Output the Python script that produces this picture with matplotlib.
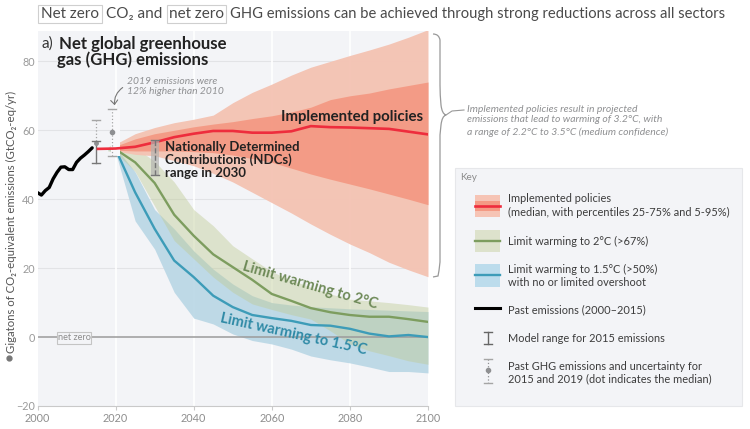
import numpy as np
import matplotlib
matplotlib.use("Agg")
import matplotlib.pyplot as plt
from matplotlib.patches import Rectangle, FancyArrowPatch, PathPatch
from matplotlib.path import Path

plt.rcParams['font.family'] = ['Lato', 'Noto Sans', 'DejaVu Sans']

# data
past_years = [2000, 2001, 2002, 2003, 2004, 2005, 2006, 2007, 2008, 2009, 2010, 2011, 2012, 2013, 2014]
past = [41.9, 41.2, 42.5, 43.4, 45.9, 47.8, 49.3, 49.4, 48.6, 48.6, 50.7, 51.9, 52.8, 53.8, 54.9]

years = [2018, 2020, 2025, 2030, 2035, 2040, 2045, 2050, 2055, 2060, 2065, 2070, 2075, 2080, 2085, 2090, 2095, 2100]

red_years = [2015.5] + years[1:]
red_med = [54.6, 54.7, 55.2, 56.5, 58.0, 59.0, 59.8, 59.8, 59.3, 59.3, 59.7, 61.2, 60.9, 60.8, 60.6, 60.4, 59.6, 58.8]
red_p95 = [54.6, 56.0, 59.0, 60.8, 62.2, 63.2, 64.4, 68.0, 71.0, 73.4, 76.0, 78.3, 80.0, 81.7, 83.3, 85.0, 87.0, 89.2]
red_p75 = [54.6, 55.4, 57.5, 59.0, 60.0, 61.0, 61.8, 62.5, 63.4, 64.2, 65.3, 66.7, 68.9, 70.0, 70.8, 72.0, 73.0, 74.0]
red_p25 = [54.6, 54.2, 54.0, 54.0, 54.0, 53.8, 53.5, 52.8, 51.8, 50.7, 49.0, 47.3, 45.8, 44.4, 43.0, 41.5, 40.0, 38.4]
red_p5 = [54.6, 54.0, 53.0, 52.6, 51.2, 49.7, 47.5, 45.0, 42.0, 39.0, 36.0, 32.8, 29.8, 27.0, 24.5, 21.7, 19.5, 17.5]

green_med = [54.5, 54.5, 50.7, 44.7, 35.5, 29.4, 24.0, 20.3, 16.6, 12.5, 10.5, 8.4, 7.2, 6.4, 5.9, 5.9, 5.2, 4.4]
green_hi = [55.0, 57.0, 55.0, 51.0, 45.0, 37.0, 32.3, 26.5, 22.7, 19.0, 16.5, 14.5, 12.5, 11.0, 10.5, 10.0, 9.4, 8.7]
green_lo = [54.0, 53.5, 48.0, 38.0, 28.0, 22.7, 17.4, 13.0, 9.6, 8.0, 6.5, 5.2, 1.8, -2.0, -4.0, -5.4, -6.9, -7.9]

blue_med = [54.5, 54.5, 42.0, 31.4, 22.2, 17.4, 12.0, 8.7, 6.4, 5.5, 4.7, 3.5, 3.3, 2.4, 1.0, 0.2, 0.6, 0.0]
blue_hi = [54.7, 55.0, 47.9, 37.0, 31.4, 25.0, 19.7, 15.4, 12.0, 10.0, 9.3, 8.8, 8.5, 8.2, 8.0, 7.8, 7.6, 7.4]
blue_lo = [54.3, 53.5, 33.7, 25.5, 13.0, 5.5, 3.8, 0.9, -1.0, -2.0, -3.5, -5.5, -6.6, -7.5, -8.7, -10.0, -10.0, -10.4]

yticks = [-20, 0, 20, 40, 60, 80]
xticks = [2000, 2020, 2040, 2060, 2080, 2100]

RED, GREEN, BLUE = '#ee2d3d', '#7d9d5f', '#3d9cb8'
GREY = '#8f9092'
DARK = '#222222'

fig = plt.figure(figsize=(7.5, 4.29), dpi=100)
ax = fig.add_axes([37.5 / 750, 1 - 406 / 429, 390.5 / 750, 375 / 429])
ax.set_facecolor('#f3f4f7')
ax.set_xlim(2000, 2100)
ax.set_ylim(-20, 88.8)

for y in [20, 40, 60, 80]:
    ax.axhline(y, color='#e2e3e6', lw=0.8, zorder=1)
for x in [2020, 2040, 2060, 2080]:
    ax.axvline(x, color='white', lw=1.2, zorder=1)

ax.fill_between(years, blue_lo, blue_hi, color='#bcd8e6', alpha=0.95, lw=0, zorder=2)
ax.fill_between(years, green_lo, green_hi, color='#bfcb96', alpha=0.44, lw=0, zorder=3)
ax.fill_between(years, red_p5, red_p95, color='#f4c3b3', alpha=0.96, lw=0, zorder=4)
ax.fill_between(years, red_p25, red_p75, color='#f49a84', alpha=0.96, lw=0, zorder=5)

ax.axhline(0, color='#9b9b9b', lw=1.1, zorder=6)
ax.plot(years[1:], blue_med[1:], color=BLUE, lw=1.7, zorder=7)
ax.plot(years[1:], green_med[1:], color=GREEN, lw=1.7, zorder=7)
ax.plot(past_years, past, color='black', lw=2.4, zorder=8, solid_capstyle='round')

# uncertainty bars
ax.plot([2015, 2015], [56.8, 63.1], color='#a5a5a5', lw=0.9, ls=':', zorder=8)
ax.plot([2015, 2015], [50.5, 56.8], color='#777777', lw=1.0, zorder=8)
ax.plot([2015], [56.2], 'o', color=GREY, ms=2.5, zorder=8)
ax.add_patch(Rectangle((2018.9, 52.6), 2.2, 13.6, color='#f8f8fa', lw=0, zorder=8))
ax.plot([2019, 2019], [52.6, 66.2], color='#a5a5a5', lw=0.9, ls=':', zorder=9)
ax.plot([2019], [59.4], 'o', color=GREY, ms=3, zorder=9)
for yr, v, c in [(2015, 63.1, '#a5a5a5'), (2015, 56.8, '#777777'), (2015, 50.5, '#777777'),
                 (2019, 66.2, '#a5a5a5'), (2019, 52.6, '#a5a5a5')]:
    ax.plot([yr - 1, yr + 1], [v, v], color=c, lw=1.0, zorder=9)

ax.plot(red_years, red_med, color=RED, lw=1.9, zorder=10)

# NDC range in 2030
ax.add_patch(Rectangle((2029, 47.1), 2, 10.2, color='#b3b3b0', alpha=0.7, lw=0, zorder=11))
ax.plot([2030, 2030], [47.1, 57.3], color='#777777', lw=1.0, ls='--', zorder=12)
ax.plot([2029, 2031], [57.3, 57.3], color='#777777', lw=1.0, zorder=12)
ax.plot([2029, 2031], [47.1, 47.1], color='#777777', lw=1.0, zorder=12)

for s in ['top', 'right', 'left']:
    ax.spines[s].set_visible(False)
ax.spines['bottom'].set_color('#c9c9c9')
ax.set_xticks(xticks)
ax.set_yticks(yticks)
ax.set_yticklabels(['\u221220', '0', '20', '40', '60', '80'])
ax.tick_params(axis='x', length=3, color='#c9c9c9', labelcolor='#8e8e8e', labelsize=7.8, pad=2)
ax.tick_params(axis='y', length=0, labelcolor='#9a9a9a', labelsize=7.8, pad=2)

# everything else sits on an overlay in pixel coordinates
ov = fig.add_axes([0, 0, 1, 1], zorder=20)
ov.set_xlim(0, 750)
ov.set_ylim(429, 0)
ov.axis('off')
ov.patch.set_alpha(0)

TITLE = '#4a4a4a'
def t(x, y, s, **kw):
    kw.setdefault('va', 'center')
    return ov.text(x, y, s, **kw)

# heading
ov.add_patch(Rectangle((38, 5), 64, 18, fc='none', ec='#cfcfcf', lw=0.8))
ov.add_patch(Rectangle((166.5, 5), 59.5, 18, fc='none', ec='#cfcfcf', lw=0.8))
t(41, 14, 'Net zero', fontsize=11, color=TITLE)
t(106.5, 14, 'CO\u2082 and', fontsize=11, color=TITLE)
t(169, 14, 'net zero', fontsize=11, color=TITLE)
t(229.5, 14, 'GHG emissions can be achieved through strong reductions across all sectors',
  fontsize=10.6, color=TITLE)

t(42, 44, 'a)', fontsize=11, color='#333333')
t(59, 44, 'Net global greenhouse', fontsize=12.1, fontweight='bold', color=DARK)
t(57, 60, 'gas (GHG) emissions', fontsize=12.1, fontweight='bold', color=DARK)

t(127, 81, '2019 emissions were', fontsize=7.4, style='italic', color=GREY)
t(127, 91, '12% higher than 2010', fontsize=7.4, style='italic', color=GREY)
ov.add_patch(FancyArrowPatch((125, 86), (115, 108), connectionstyle='arc3,rad=0.35',
                             arrowstyle='->,head_length=3,head_width=2.5', color='#777777', lw=0.8))

t(281, 117, 'Implemented policies', fontsize=10.8, fontweight='bold', color=DARK)
t(165, 147, 'Nationally Determined', fontsize=9.5, fontweight='bold', color=DARK)
t(165, 160, 'Contributions (NDCs)', fontsize=9.5, fontweight='bold', color=DARK)
t(165, 173, 'range in 2030', fontsize=9.5, fontweight='bold', color=DARK)

t(310, 285, 'Limit warming to 2\u00b0C', fontsize=10.6, fontweight='bold', color='#6e8a58',
  rotation=-16, ha='center', rotation_mode='anchor')
t(294, 334, 'Limit warming to 1.5\u00b0C', fontsize=10.5, fontweight='bold', color='#2f8aa6',
  rotation=-12.5, ha='center', rotation_mode='anchor')

ov.add_patch(Rectangle((57, 332), 34, 12, fc='#f3f4f7', ec='#c4c4c4', lw=0.8, zorder=5))
t(74, 338, 'net zero', fontsize=6.6, color='#8c8c8c', ha='center', zorder=6)

t(11, 222, 'Gigatons of CO\u2082-equivalent emissions (GtCO\u2082-eq/yr)', fontsize=8.2, color='#555555',
  rotation=90, ha='center')
ov.plot([9], [358], 'o', color='#777777', ms=3.5)

# brace on the right
brace = Path([(433, 34), (439, 34), (440, 40), (440, 48), (440, 85), (440, 95), (441, 105), (442, 114), (446, 115),
              (442, 116), (441, 125), (440, 135), (440, 200), (440, 262), (439, 272), (438, 276), (433, 277)],
             [Path.MOVETO] + [Path.CURVE3] * 2 + [Path.LINETO] + [Path.LINETO] + [Path.CURVE3] * 2 + [Path.CURVE3] * 2
             + [Path.CURVE3] * 2 + [Path.LINETO] + [Path.LINETO] + [Path.LINETO] + [Path.CURVE3] * 2 + [Path.LINETO])
ov.add_patch(PathPatch(brace, fc='none', ec='#999999', lw=0.9))
ov.plot([446, 452, 464], [115, 111, 110], color='#999999', lw=0.8)

t(467, 109, 'Implemented policies result in projected', fontsize=7.5, style='italic', color=GREY)
t(467, 120, 'emissions that lead to warming of 3.2\u00b0C, with', fontsize=7.5, style='italic', color=GREY)
t(467, 132, 'a range of 2.2\u00b0C to 3.5\u00b0C (medium confidence)', fontsize=7.5, style='italic', color=GREY)

# key
ov.add_patch(Rectangle((455, 168), 287, 238, fc='#f3f4f7', ec='#e6e7ea', lw=0.8))
t(460, 177, 'Key', fontsize=7.2, color='#8c8c8c')

ov.add_patch(Rectangle((475, 195), 25, 22, fc='#f6c4b5', lw=0))
ov.add_patch(Rectangle((475, 201), 25, 10, fc='#f49a84', lw=0))
ov.plot([475, 500], [206, 206], color=RED, lw=1.9)
ov.add_patch(Rectangle((475, 230), 25, 22, fc='#dde2cc', lw=0))
ov.plot([475, 500], [241, 241], color=GREEN, lw=1.7)
ov.add_patch(Rectangle((475, 264), 25, 23, fc='#bcdcec', lw=0))
ov.plot([475, 500], [275, 275], color=BLUE, lw=1.7)
ov.plot([475, 500], [308, 308], color='black', lw=2.2)

ov.plot([488, 488], [332, 344], color='#666666', lw=1.0)
ov.plot([484, 492], [332, 332], color='#666666', lw=1.0)
ov.plot([484, 492], [344, 344], color='#666666', lw=1.0)
ov.plot([488, 488], [359, 383], color=GREY, lw=0.9, ls=':')
ov.plot([488], [370], 'o', color=GREY, ms=3)
ov.plot([484, 492], [359, 359], color='#a5a5a5', lw=1.0)
ov.plot([484, 492], [383, 383], color='#a5a5a5', lw=1.0)

KEY = '#3c3c3c'
for y, s in [(199, 'Implemented policies'),
             (212, '(median, with percentiles 25-75% and 5-95%)'),
             (241, 'Limit warming to 2\u00b0C (>67%)'),
             (269, 'Limit warming to 1.5\u00b0C (>50%)'),
             (282, 'with no or limited overshoot'),
             (310, 'Past emissions (2000\u20132015)'),
             (338, 'Model range for 2015 emissions'),
             (366, 'Past GHG emissions and uncertainty for'),
             (379, '2015 and 2019 (dot indicates the median)')]:
    t(508, y, s, fontsize=7.9, color=KEY)

fig.savefig('out.png', dpi=100)
